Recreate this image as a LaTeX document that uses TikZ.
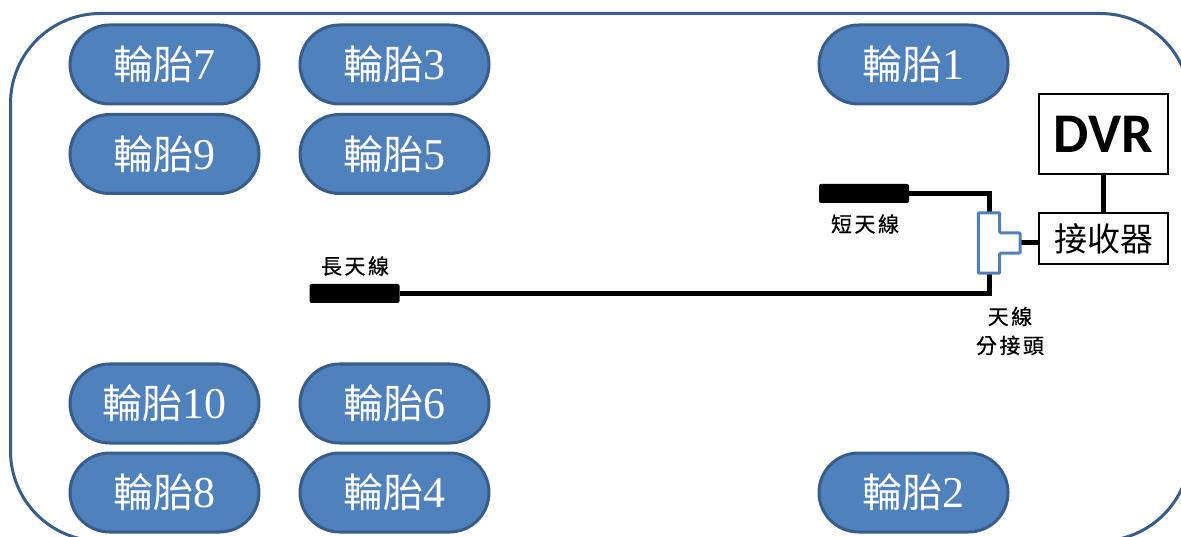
\documentclass[tikz,border=0pt]{standalone}
\usepackage{fontspec}
\setmainfont{Liberation Serif}
\newfontfamily\cjk{Noto Sans CJK TC}
\newfontfamily\cjklabel[LetterSpace=12,FakeBold=0.6]{Noto Sans CJK TC}
\newfontfamily\dvrfont{Carlito}
\usetikzlibrary{shapes.misc}
\definecolor{tirefill}{HTML}{4F81BD}
\definecolor{tireline}{HTML}{385D8A}
\definecolor{splitline}{HTML}{4F81BD}
\newcommand{\tirename}[1]{{\fontsize{40}{40}\selectfont\cjk 輪胎}{\fontsize{44}{44}\selectfont #1}}
\begin{document}
\begin{tikzpicture}[x=1pt,y=-1pt]
	\tikzset{tire/.style = {shape=rounded rectangle,fill=tirefill,draw=tireline,line width=3pt,text=white,minimum width=189pt,minimum height=79pt,inner sep=0pt}}
	\tikzset{box/.style = {shape=rectangle,draw=black,line width=1.6pt,fill=white,inner sep=0pt}}
	\tikzset{antenna/.style = {shape=rectangle,rounded corners=2pt,fill=black,minimum width=90pt,minimum height=19pt,inner sep=0pt}}
	\tikzset{wire/.style = {draw=black,line width=5pt}}
	\tikzset{caption/.style = {inner sep=0pt,align=center,font=\fontsize{21}{29}\selectfont\cjklabel}}
	\useasboundingbox (0,0) rectangle (1181,537);
	\clip (0,0) rectangle (1181,537);
	% Draw frame
	\draw[draw=tireline,line width=3pt,rounded corners=90pt] (10.5,13.5) rectangle (1190,541);
	% Draw tires
	\node[tire] (tire7) at (164.5,64.5) {\tirename{7}};
	\node[tire] (tire9) at (164.5,154) {\tirename{9}};
	\node[tire] (tire3) at (394.5,64.5) {\tirename{3}};
	\node[tire] (tire5) at (394.5,154) {\tirename{5}};
	\node[tire] (tire1) at (913.5,64.5) {\tirename{1}};
	\node[tire] (tire10) at (164.5,403.5) {\tirename{10}};
	\node[tire] (tire8) at (164.5,492.5) {\tirename{8}};
	\node[tire] (tire6) at (394.5,403.5) {\tirename{6}};
	\node[tire] (tire4) at (394.5,492.5) {\tirename{4}};
	\node[tire] (tire2) at (913.5,492.5) {\tirename{2}};
	% Draw DVR and receiver
	\node[box,minimum width=129pt,minimum height=80pt,font=\fontsize{56}{56}\dvrfont\bfseries] (dvr) at (1103.5,134) {DVR};
	\node[box,minimum width=129pt,minimum height=51pt,font=\fontsize{33}{33}\selectfont\cjk] (receiver) at (1103.5,238.5) {接收器};
	% Draw antennas
	\node[antenna] (shortant) at (864,193.5) {};
	\node[antenna] (longant) at (354.5,293.5) {};
	\node[minimum width=21pt,minimum height=60pt,inner sep=0pt] (splitter) at (989,243) {};
	\node[minimum width=20pt,minimum height=20pt,inner sep=0pt,anchor=west] (splitstem) at (splitter.east) {};
	\draw[wire] (shortant.east) -| (splitter.north);
	\draw[wire] (longant.east) -| (splitter.south);
	\draw[wire] (splitstem.east) -- (splitstem.east -| receiver.west);
	\draw[wire] (dvr.south) -- (receiver.north);
	% Draw splitter
	\draw[draw=splitline,line width=3pt,fill=white,rounded corners=1pt] (splitter.north west) -- (splitter.north east) -- (splitstem.north west) -- (splitstem.north east) -- (splitstem.south east) -- (splitstem.south west) -- (splitter.south east) -- (splitter.south west) -- cycle;
	% Draw labels
	\node[caption] (shortlabel) at (865,224) {短天線};
	\node[caption] (longlabel) at (355,266) {長天線};
	\node[caption] (splitlabel) at (1010,331) {天線\\分接頭};
\end{tikzpicture}
\end{document}
